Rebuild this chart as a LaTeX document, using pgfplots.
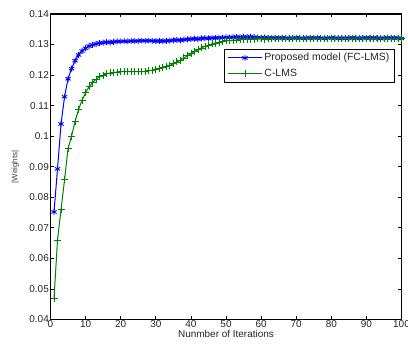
\documentclass[border=0pt]{standalone}
\usepackage{pgfplots}
\pgfplotsset{compat=1.18}
\usepackage{pgfplotstable}
\usepackage{fontspec}
\setmainfont{Liberation Sans}
\definecolor{mblue}{RGB}{0,0,255}
\definecolor{mgreen}{RGB}{0,128,0}

\pgfplotstableread{
x y
1 0.0752
2 0.0893
3 0.1040
4 0.1129
5 0.1188
6 0.1221
7 0.1247
8 0.1266
9 0.1279
10 0.1288
11 0.1295
12 0.1299
13 0.1302
14 0.1305
15 0.1306
16 0.1308
17 0.1307
18 0.1309
19 0.1310
20 0.1310
21 0.1311
22 0.1310
23 0.1312
24 0.1311
25 0.1312
26 0.1313
27 0.1312
28 0.1313
29 0.1312
30 0.1311
31 0.1312
32 0.1311
33 0.1312
34 0.1313
35 0.1314
36 0.1315
37 0.1314
38 0.1316
39 0.1317
40 0.1318
41 0.1319
42 0.1318
43 0.1320
44 0.1321
45 0.1320
46 0.1322
47 0.1321
48 0.1323
49 0.1322
50 0.1324
51 0.1323
52 0.1324
53 0.1325
54 0.1324
55 0.1325
56 0.1324
57 0.1325
58 0.1324
59 0.1323
60 0.1322
61 0.1323
62 0.1322
63 0.1321
64 0.1322
65 0.1321
66 0.1322
67 0.1321
68 0.1320
69 0.1321
70 0.1322
71 0.1321
72 0.1320
73 0.1321
74 0.1322
75 0.1321
76 0.1322
77 0.1321
78 0.1320
79 0.1321
80 0.1322
81 0.1321
82 0.1320
83 0.1321
84 0.1320
85 0.1321
86 0.1322
87 0.1321
88 0.1320
89 0.1321
90 0.1322
91 0.1321
92 0.1322
93 0.1321
94 0.1320
95 0.1321
96 0.1322
97 0.1321
98 0.1322
99 0.1321
100 0.1320
}\fclms

\pgfplotstableread{
x y
1 0.0468
2 0.0660
3 0.0760
4 0.0857
5 0.0960
6 0.1000
7 0.1048
8 0.1088
9 0.1118
10 0.1143
11 0.1162
12 0.1176
13 0.1187
14 0.1195
15 0.1200
16 0.1204
17 0.1207
18 0.1209
19 0.1210
20 0.1211
21 0.1211
22 0.1212
23 0.1211
24 0.1212
25 0.1212
26 0.1211
27 0.1212
28 0.1214
29 0.1216
30 0.1218
31 0.1221
32 0.1224
33 0.1228
34 0.1232
35 0.1237
36 0.1243
37 0.1249
38 0.1256
39 0.1263
40 0.1270
41 0.1277
42 0.1283
43 0.1289
44 0.1294
45 0.1298
46 0.1302
47 0.1305
48 0.1308
49 0.1310
50 0.1312
51 0.1313
52 0.1314
53 0.1315
54 0.1316
55 0.1317
56 0.1317
57 0.1318
58 0.1318
59 0.1319
60 0.1319
61 0.1318
62 0.1319
63 0.1320
64 0.1319
65 0.1320
66 0.1319
67 0.1320
68 0.1321
69 0.1320
70 0.1319
71 0.1320
72 0.1321
73 0.1320
74 0.1319
75 0.1320
76 0.1321
77 0.1320
78 0.1319
79 0.1320
80 0.1321
81 0.1320
82 0.1319
83 0.1320
84 0.1321
85 0.1320
86 0.1319
87 0.1320
88 0.1321
89 0.1320
90 0.1319
91 0.1320
92 0.1321
93 0.1320
94 0.1319
95 0.1320
96 0.1321
97 0.1320
98 0.1319
99 0.1320
100 0.1320
}\clms

\begin{document}
\begin{tikzpicture}
\begin{axis}[
  scale only axis,
  width=351bp, height=305.5bp,
  xmin=0, xmax=100, ymin=0.04, ymax=0.14,
  xtick={0,10,...,100},
  ytick={0.04,0.05,0.06,0.07,0.08,0.09,0.1,0.11,0.12,0.13,0.14},
  yticklabel style={/pgf/number format/fixed, /pgf/number format/precision=2, inner sep=1.5bp},
  xticklabel style={inner sep=1bp},
  scaled y ticks=false,
  /pgf/number format/assume math mode=true,
  tick label style={font=\fontsize{10}{12}\selectfont, text=black!85},
  tick align=inside,
  major tick length=3.5bp,
  axis line style={line width=1.1bp},
  every tick/.style={black, line width=0.8bp},
  xlabel={Nunmber of Iterations},
  ylabel={|Weights|},
  xlabel style={font=\fontsize{10}{12}\selectfont, text=black!85, at={(axis description cs:0.5,0)}, anchor=center, yshift=-14bp},
  ylabel style={font=\fontsize{8}{10}\selectfont, text=black!75, at={(axis description cs:-0.1,0.5)}, anchor=center},
  legend style={at={(0.981,0.887)}, anchor=north east, draw=black, line width=0.8bp,
     font=\fontsize{10.5}{12.5}\selectfont, text=black!85, inner xsep=3bp, inner ysep=2.5bp, row sep=2.5bp, cells={anchor=west}},
  legend image code/.code={\draw[mark repeat=2, mark phase=2, #1] plot coordinates {(0bp,0bp) (17bp,0bp) (34bp,0bp)};},
]
\addplot[mblue, line width=1bp, mark=asterisk, mark size=3bp, mark options={line width=0.9bp}] table[x=x,y=y] {\fclms};
\addlegendentry{Proposed model (FC-LMS)}
\addplot[mgreen, line width=1bp, mark=+, mark size=3.5bp, mark options={line width=0.8bp}] table[x=x,y=y] {\clms};
\addlegendentry{C-LMS}
\end{axis}
\pgfresetboundingbox
\path ([xshift=-50.5bp,yshift=-24bp]current axis.south west) rectangle ([xshift=6.5bp,yshift=14bp]current axis.north east);
\end{tikzpicture}
\end{document}
